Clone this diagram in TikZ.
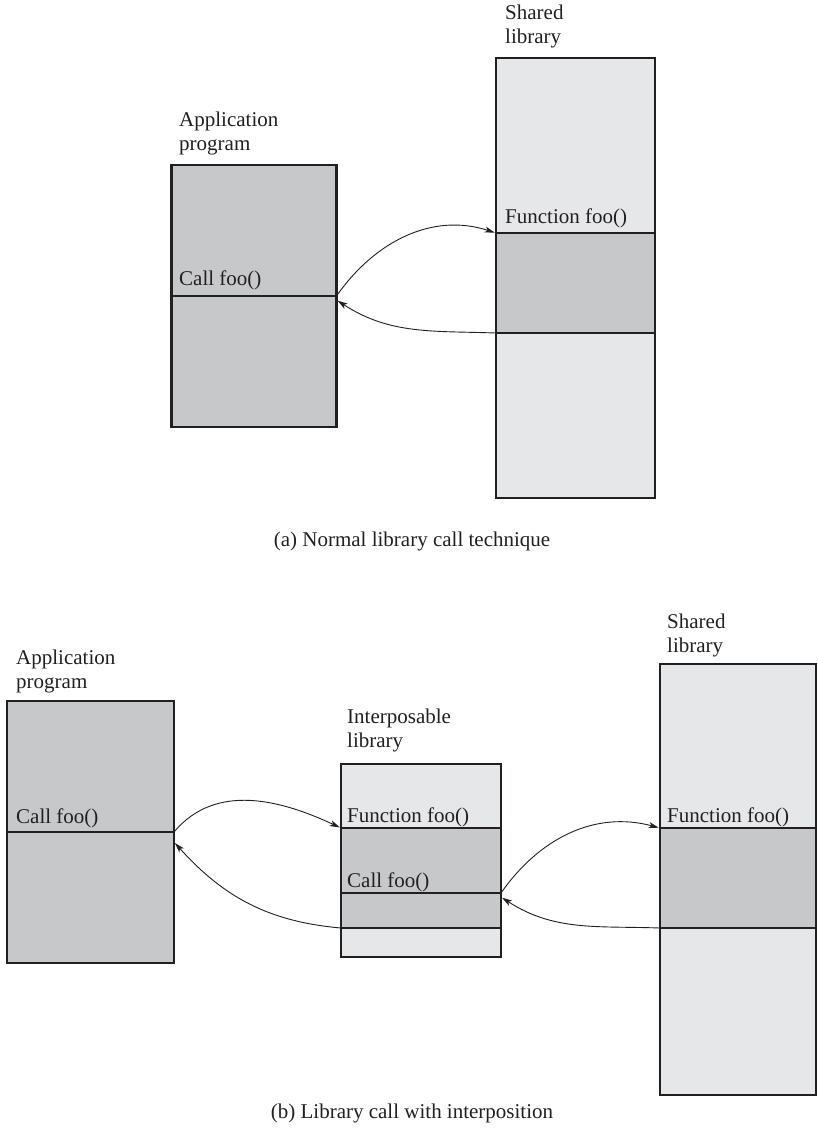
\documentclass[tikz,border=0pt]{standalone}
\usepackage{fontspec}
\setmainfont{Liberation Serif}
\newfontfamily\figfont{Liberation Serif}
\usetikzlibrary{arrows.meta,positioning}
\definecolor{codegray}{RGB}{199,200,202}
\definecolor{libgray}{RGB}{230,231,233}
\definecolor{inkline}{RGB}{35,31,32}
\tikzset{
  progbox/.style={draw=inkline, line width=2.6pt, fill=codegray,
    inner sep=0pt, outer sep=0pt, anchor=north west},
  libbox/.style={draw=inkline, line width=2.6pt, fill=libgray,
    inner sep=0pt, outer sep=0pt, anchor=north west},
  bandline/.style={draw=inkline, line width=1.1pt},
  boxlabel/.style={font=\figfont\fontsize{21}{23.5}\selectfont, anchor=base west,
    inner sep=0pt, align=left, text=inkline},
  caption/.style={font=\figfont\fontsize{21}{23.5}\selectfont, anchor=base,
    inner sep=0pt, text=inkline},
  arr/.style={-{Stealth[length=10pt, width=6pt, inset=2.5pt]}, line width=0.9pt,
    draw=inkline, shorten >=1.3pt},
}
\begin{document}
\begin{tikzpicture}[x=1pt, y=-1pt]
  \useasboundingbox (0,0) rectangle (817,1130);

  % (a) Normal call: program and shared library
  \node[progbox, minimum width=165pt, minimum height=262pt] (appa) at (171.5,165) {};
  \node[libbox, minimum width=159pt, minimum height=440pt] (sha) at (496,58) {};
  \fill[codegray] (497.3,233) rectangle (653.7,333);
  \draw[bandline] (appa.west |- 0,296) -- (appa.east |- 0,296);
  \draw[bandline] (sha.west |- 0,233) -- (sha.east |- 0,233);
  \draw[bandline] (sha.west |- 0,333) -- (sha.east |- 0,333);
  \draw[inkline, line width=2.6pt] (sha.north west) rectangle (sha.south east);

  % labels: base anchor sits on the last line
  \node[boxlabel] (appalbl) at (179,150) {Application\\program};
  \node[boxlabel] (shalbl) at (505,43) {Shared\\library};
  \node[boxlabel] (appacall) at (179,285) {Call foo()};
  \node[boxlabel] (shafn) at (505,223) {Function foo()};

  \coordinate (appa-call) at (appa.east |- 0,296);
  \coordinate (appa-back) at (appa.east |- 0,300);
  \coordinate (sha-fn) at (sha.west |- 0,233);
  \coordinate (sha-ret) at (sha.west |- 0,333);
  \draw[arr] (appa-call) to[out=55, in=162] (sha-fn);
  \draw[arr] (sha-ret) to[out=178, in=-33] (appa-back);

  \node[caption] (capa) at (412,546) {(a) Normal library call technique};

  % (b) Interposition: program, interposable and shared library
  \node[progbox, minimum width=167pt, minimum height=262pt] (appb) at (7,701) {};
  \node[libbox, minimum width=160pt, minimum height=193pt] (ipl) at (341,764) {};
  \node[libbox, minimum width=156pt, minimum height=431pt] (shb) at (660,664) {};
  \fill[codegray] (342.3,828) rectangle (499.7,928);
  \fill[codegray] (661.3,828) rectangle (814.7,928);
  \draw[bandline] (appb.west |- 0,832) -- (appb.east |- 0,832);
  \foreach \ly in {828,893,928} {
    \draw[bandline] (ipl.west |- 0,\ly) -- (ipl.east |- 0,\ly);
  }
  \draw[bandline] (shb.west |- 0,828) -- (shb.east |- 0,828);
  \draw[bandline] (shb.west |- 0,928) -- (shb.east |- 0,928);
  \draw[inkline, line width=2.6pt] (ipl.north west) rectangle (ipl.south east);
  \draw[inkline, line width=2.6pt] (shb.north west) rectangle (shb.south east);

  \node[boxlabel] (appblbl) at (16,688) {Application\\program};
  \node[boxlabel] (ipllbl) at (347,747) {Interposable\\library};
  \node[boxlabel] (shblbl) at (667,652) {Shared\\library};
  \node[boxlabel] (appbcall) at (16,823) {Call foo()};
  \node[boxlabel] (iplfn) at (347,822) {Function foo()};
  \node[boxlabel] (iplcall) at (347,887) {Call foo()};
  \node[boxlabel] (shbfn) at (667,822) {Function foo()};

  \coordinate (appb-call) at (appb.east |- 0,832);
  \coordinate (appb-back) at (appb.east |- 0,842);
  \coordinate (ipl-fn) at (ipl.west |- 0,828);
  \coordinate (ipl-ret) at (ipl.west |- 0,928);
  \coordinate (ipl-call) at (ipl.east |- 0,893);
  \coordinate (ipl-back) at (ipl.east |- 0,897);
  \coordinate (shb-fn) at (shb.west |- 0,828);
  \coordinate (shb-ret) at (shb.west |- 0,928);
  \draw[arr] (appb-call) to[out=50, in=155] (ipl-fn);
  \draw[arr] (ipl-ret) to[out=175, in=-48] (appb-back);
  \draw[arr] (ipl-call) to[out=55, in=165] (shb-fn);
  \draw[arr] (shb-ret) to[out=178, in=-33] (ipl-back);

  \node[caption] (capb) at (412,1118) {(b) Library call with interposition};
\end{tikzpicture}
\end{document}
